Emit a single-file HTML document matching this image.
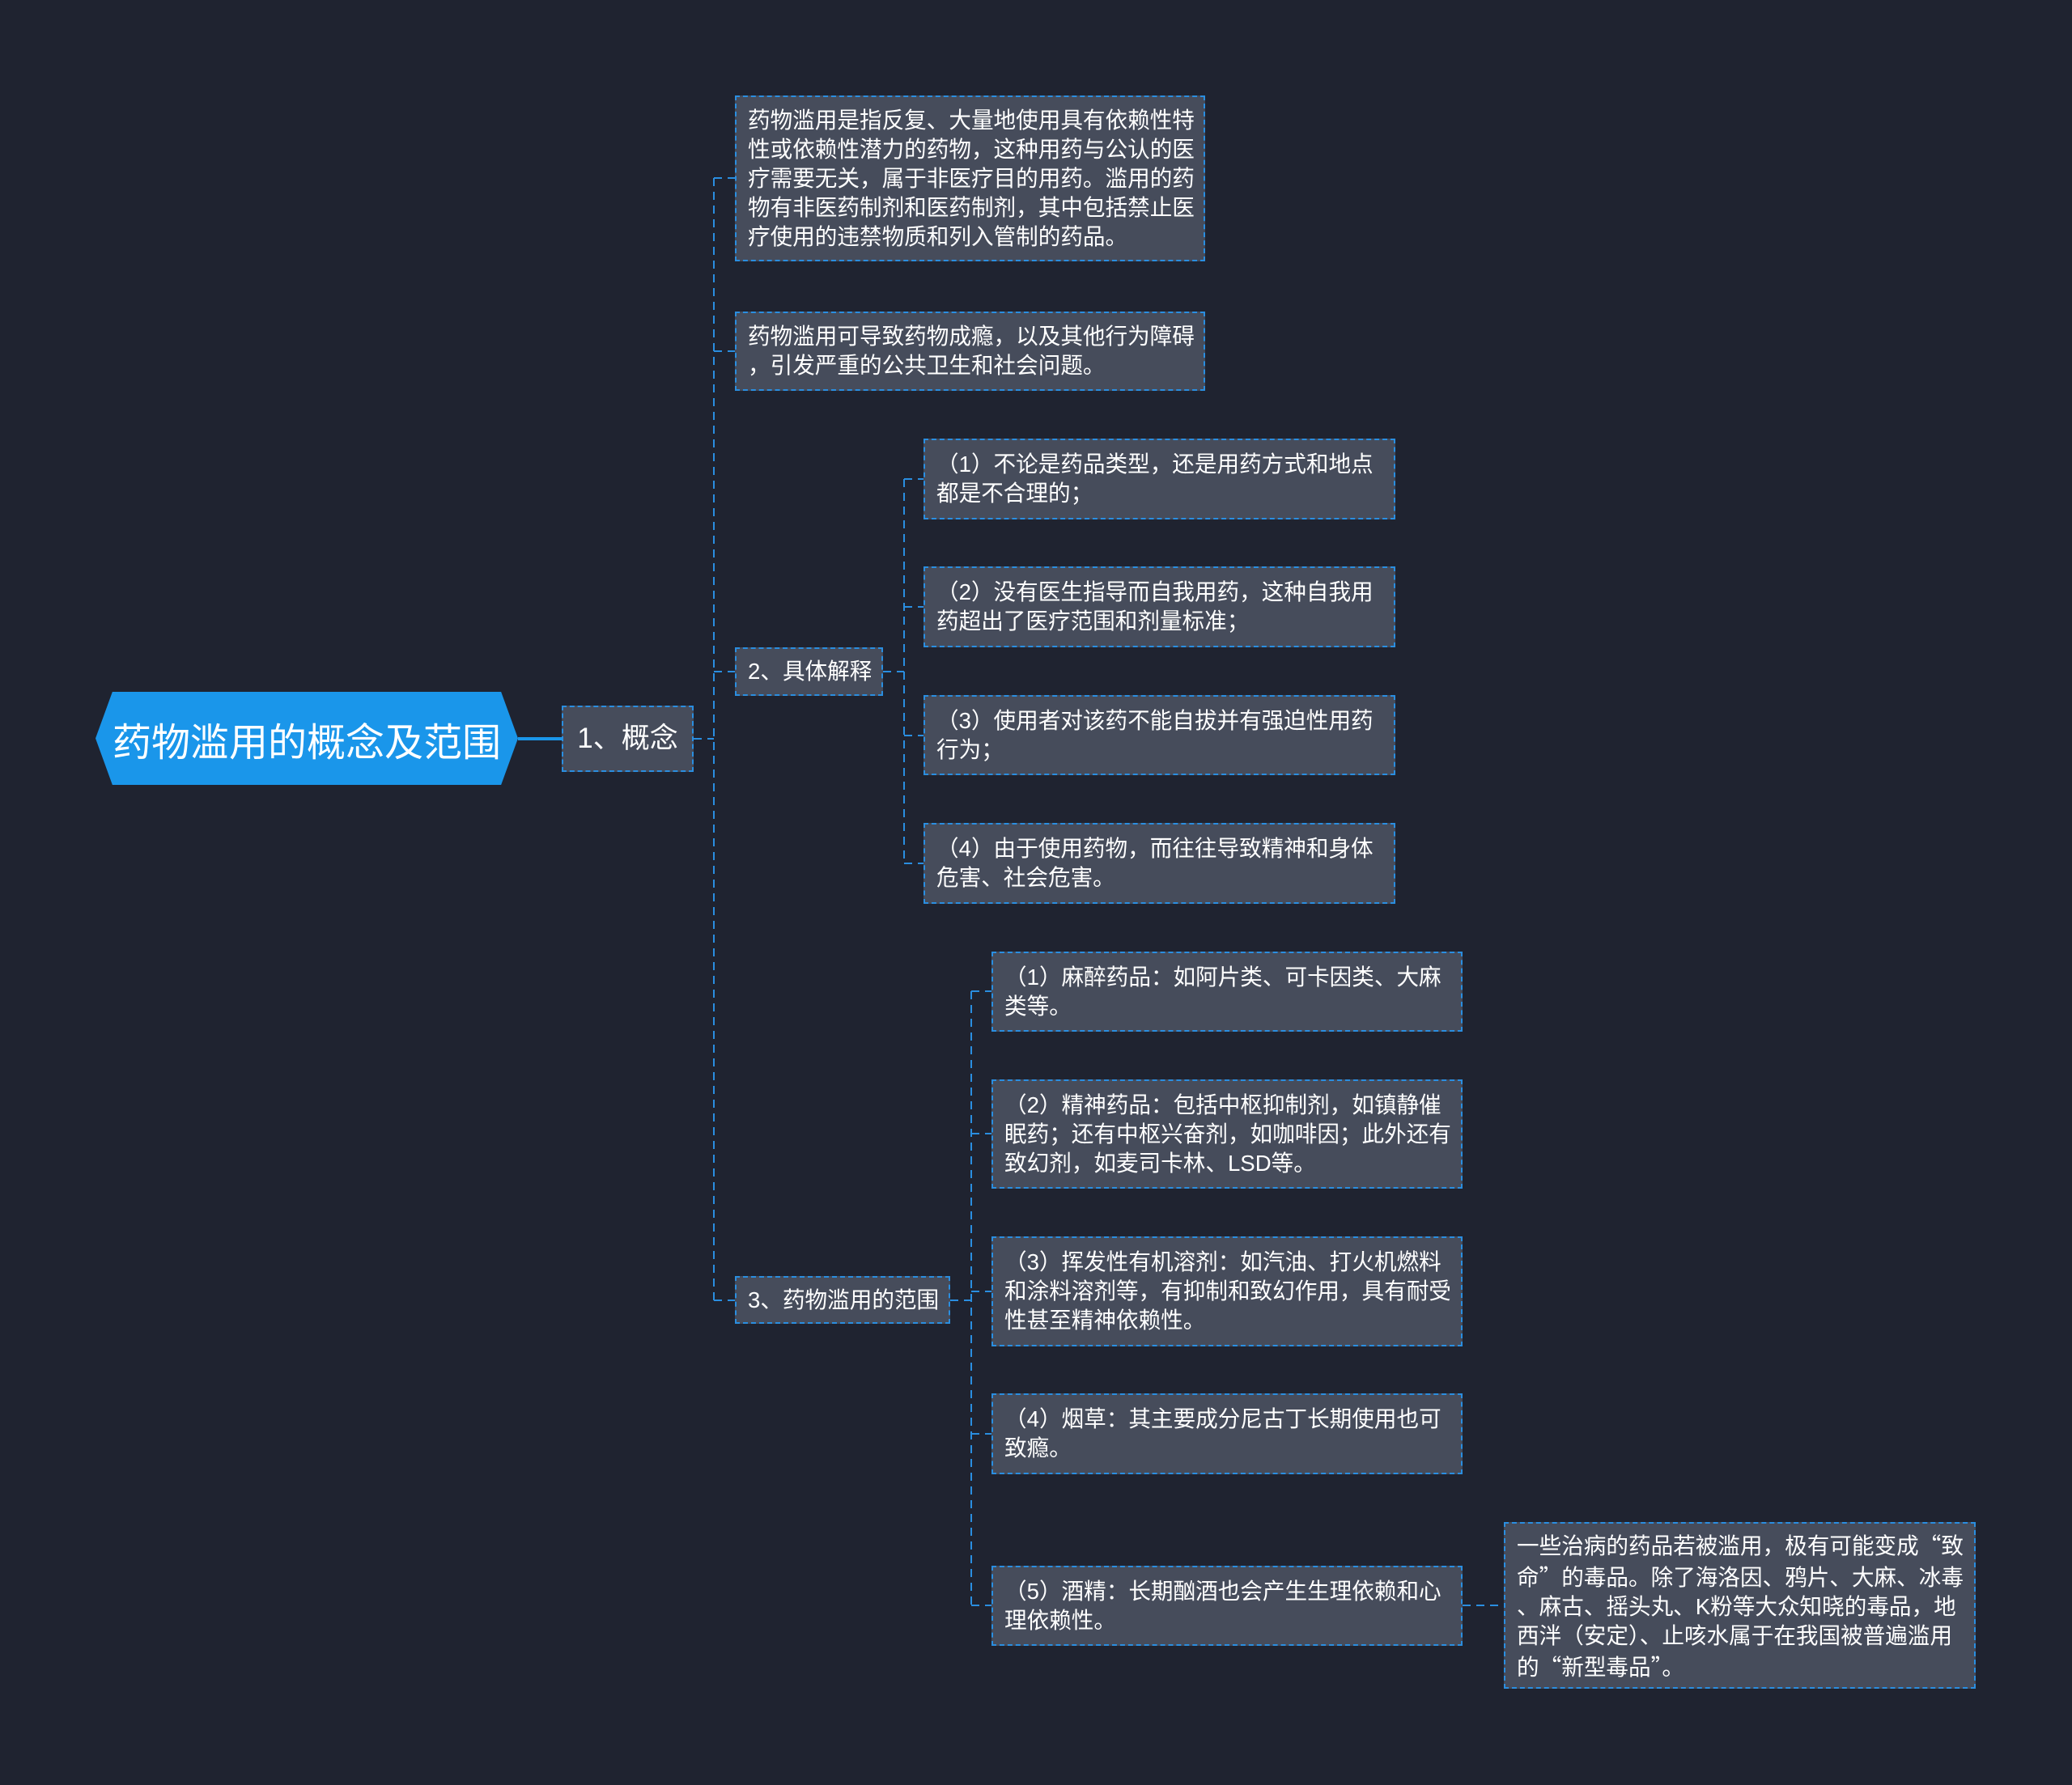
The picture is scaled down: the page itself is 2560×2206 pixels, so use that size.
<!DOCTYPE html>
<html><head><meta charset="utf-8"><style>
html,body{margin:0;padding:0;}
body{width:2560px;height:2206px;background:#1f2330;position:relative;overflow:hidden;font-family:"Liberation Sans","Noto Sans CJK SC",sans-serif;}
.b{position:absolute;box-sizing:border-box;background:#464c5b;border:2px dashed #2a8ee0;color:#fff;font-size:27.6px;line-height:36px;padding:0 14px;display:flex;flex-direction:column;justify-content:center;white-space:nowrap;}
.q{font-family:"Noto Sans CJK SC",sans-serif;}
.root{position:absolute;left:118px;top:855px;width:522px;height:115px;background:#1a96ea;clip-path:polygon(4% 0,96% 0,100% 50%,96% 100%,4% 100%,0 50%);color:#fff;font-size:48px;display:flex;align-items:center;justify-content:center;white-space:nowrap;}
svg{position:absolute;left:0;top:0;}
</style></head><body>
<svg width="2560" height="2206">
<g stroke="#2a8ee0" stroke-width="2" stroke-dasharray="10,7" fill="none">
<path d="M857 913H882M882 220V1607M882 220H908M882 434H908M882 830H908M882 1607H908"/>
<path d="M1091 830H1117M1117 592V1067M1117 592H1141M1117 750H1141M1117 909H1141M1117 1067H1141"/>
<path d="M1174 1607H1200M1200 1225V1984M1200 1225H1225M1200 1401H1225M1200 1596H1225M1200 1772H1225M1200 1984H1225"/>
<path d="M1807 1984H1858"/>
</g>
<path d="M640 913H694" stroke="#1a96ea" stroke-width="4"/>
</svg>
<div class="root">药物滥用的概念及范围</div>
<div class="b" style="left:694px;top:872px;width:163px;height:82px;font-size:35px;align-items:center;padding:0">1、概念</div>
<div class="b" style="left:908px;top:118px;width:581px;height:205px">
<div>药物滥用是指反复、大量地使用具有依赖性特</div><div>性或依赖性潜力的药物，这种用药与公认的医</div><div>疗需要无关，属于非医疗目的用药。滥用的药</div><div>物有非医药制剂和医药制剂，其中包括禁止医</div><div>疗使用的违禁物质和列入管制的药品。</div></div>
<div class="b" style="left:908px;top:385px;width:581px;height:98px">
<div>药物滥用可导致药物成瘾，以及其他行为障碍</div><div>，引发严重的公共卫生和社会问题。</div></div>
<div class="b" style="left:908px;top:800px;width:183px;height:60px">2、具体解释</div>
<div class="b" style="left:1141px;top:542px;width:583px;height:100px"><div>（1）不论是药品类型，还是用药方式和地点</div><div>都是不合理的；</div></div>
<div class="b" style="left:1141px;top:700px;width:583px;height:100px"><div>（2）没有医生指导而自我用药，这种自我用</div><div>药超出了医疗范围和剂量标准；</div></div>
<div class="b" style="left:1141px;top:859px;width:583px;height:99px"><div>（3）使用者对该药不能自拔并有强迫性用药</div><div>行为；</div></div>
<div class="b" style="left:1141px;top:1017px;width:583px;height:100px"><div>（4）由于使用药物，而往往导致精神和身体</div><div>危害、社会危害。</div></div>
<div class="b" style="left:908px;top:1577px;width:266px;height:59px">3、药物滥用的范围</div>
<div class="b" style="left:1225px;top:1176px;width:582px;height:99px"><div>（1）麻醉药品：如阿片类、可卡因类、大麻</div><div>类等。</div></div>
<div class="b" style="left:1225px;top:1334px;width:582px;height:135px"><div>（2）精神药品：包括中枢抑制剂，如镇静催</div><div>眠药；还有中枢兴奋剂，如咖啡因；此外还有</div><div>致幻剂，如麦司卡林、LSD等。</div></div>
<div class="b" style="left:1225px;top:1528px;width:582px;height:136px"><div>（3）挥发性有机溶剂：如汽油、打火机燃料</div><div>和涂料溶剂等，有抑制和致幻作用，具有耐受</div><div>性甚至精神依赖性。</div></div>
<div class="b" style="left:1225px;top:1722px;width:582px;height:100px"><div>（4）烟草：其主要成分尼古丁长期使用也可</div><div>致瘾。</div></div>
<div class="b" style="left:1225px;top:1935px;width:582px;height:99px"><div>（5）酒精：长期酗酒也会产生生理依赖和心</div><div>理依赖性。</div></div>
<div class="b" style="left:1858px;top:1881px;width:583px;height:206px"><div>一些治病的药品若被滥用，极有可能变成<span class="q">“</span>致</div><div>命<span class="q">”</span>的毒品。除了海洛因、鸦片、大麻、冰毒</div><div>、麻古、摇头丸、K粉等大众知晓的毒品，地</div><div>西泮（安定）、止咳水属于在我国被普遍滥用</div><div>的<span class="q">“</span>新型毒品<span class="q">”</span>。</div></div>
</body></html>
